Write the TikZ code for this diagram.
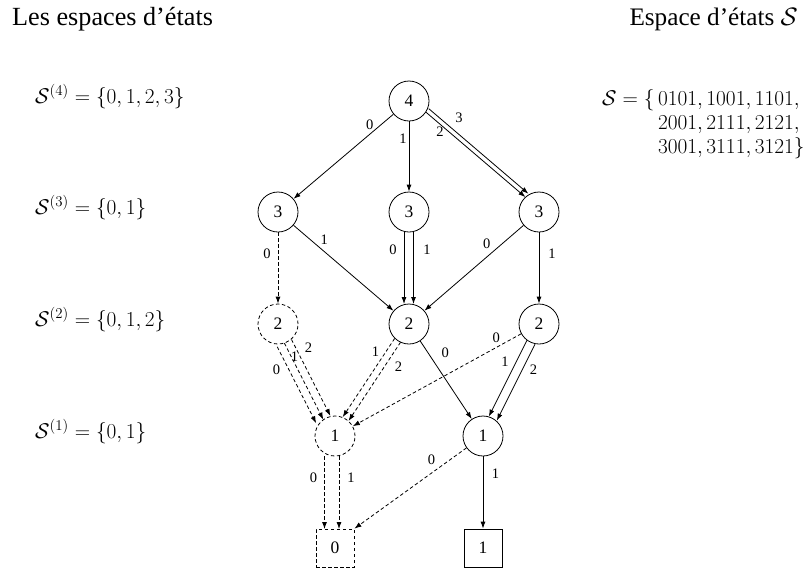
\documentclass[tikz,border=0pt]{standalone}
\usepackage{fix-cm}
\usepackage[no-math]{fontspec}
\setmainfont{Liberation Serif}
\usetikzlibrary{arrows.meta,calc}
\tikzset{
  x=1pt,y=1pt,
  statenode/.style={circle,draw,minimum size=40pt,inner sep=0pt,line width=0.8pt,font=\fontsize{17.5}{20}\selectfont},
  dstatenode/.style={statenode,dash pattern=on 3.5pt off 2.5pt},
  termnode/.style={rectangle,draw,minimum size=38pt,inner sep=0pt,line width=0.8pt,font=\fontsize{17.5}{20}\selectfont},
  dtermnode/.style={termnode,dash pattern=on 3.5pt off 2.5pt},
  arr/.style={line width=0.8pt,-{Latex[length=7pt,width=5pt]}},
  darr/.style={arr,dash pattern=on 3.5pt off 2.5pt},
  lbl/.style={inner sep=0pt,font=\fontsize{14.5}{16}\selectfont},
  mathlbl/.style={inner sep=0pt,font=\fontsize{21.3}{24}\selectfont},
  headlbl/.style={inner sep=0pt,font=\fontsize{26.2}{30}\selectfont},
}
% #1 style, #2 from, #3 to, #4 radius at target, #5 offset, #6 label options, #7 label
\newcommand\offedge[7]{%
  \draw[#1] ($(#2)!20pt!(#3)!#5!90:(#3)$) -- node[lbl,#6]{#7} ($(#3)!#4!(#2)!#5!-90:(#2)$);}
\begin{document}
\begin{tikzpicture}
\useasboundingbox (0,0) rectangle (808,-568);
% headers
\node[headlbl,anchor=base west] (h1) at (12,-25) {Les espaces d’états};
\node[headlbl,anchor=base east,font=\fontsize{25.2}{30}\selectfont] (h2) at (798,-25) {Espace d’états $\mathcal{S}$};
% left formulas
\node[mathlbl,anchor=west] (s4) at (35,-96.5) {$\mathcal{S}^{(4)} = \{0,1,2,3\}$};
\node[mathlbl,anchor=west] (s3) at (35,-207.5) {$\mathcal{S}^{(3)} = \{0,1\}$};
\node[mathlbl,anchor=west] (s2) at (35,-319.5) {$\mathcal{S}^{(2)} = \{0,1,2\}$};
\node[mathlbl,anchor=west] (s1) at (35,-431.5) {$\mathcal{S}^{(1)} = \{0,1\}$};
% right set
\node[mathlbl,anchor=base west] (sset) at (602,-105) {$\begin{array}[t]{@{}r@{}l@{}}
 \mathcal{S} = \{\, & 0101, 1001, 1101,\\
  & 2001, 2111, 2121,\\
  & 3001, 3111, 3121\}
 \end{array}$};
% nodes
\node[statenode] (n4) at (409,-101) {4};
\node[statenode] (a3) at (278,-212) {3};
\node[statenode] (b3) at (409,-212) {3};
\node[statenode] (c3) at (539,-212) {3};
\node[dstatenode] (a2) at (278,-324) {2};
\node[statenode] (b2) at (409,-324) {2};
\node[statenode] (c2) at (539,-324) {2};
\node[dstatenode] (a1) at (335,-436) {1};
\node[statenode] (b1) at (483,-436) {1};
\node[dtermnode] (t0) at (335,-548) {0};
\node[termnode] (t1) at (483,-548) {1};
% edges level 4 -> 3
\draw[arr] (n4) -- node[lbl,pos=.119,xshift=-11.8pt]{0} (a3);
\draw[arr] (n4) -- node[lbl,pos=.24,xshift=-6pt]{1} (b3);
\offedge{arr}{n4}{c3}{20pt}{2.5pt}{pos=.234,xshift=-9.1pt}{2}
\offedge{arr}{n4}{c3}{20pt}{7pt}{pos=.109,xshift=19.4pt}{3}
% level 3 -> 2
\draw[darr] (a3) -- node[lbl,pos=.306,xshift=-11pt]{0} (a2);
\draw[arr] (a3) -- node[lbl,pos=.174,xshift=13.3pt]{1} (b2);
\offedge{arr}{b3}{b2}{20pt}{-5pt}{pos=.25,xshift=-11pt}{0}
\offedge{arr}{b3}{b2}{20pt}{4.5pt}{pos=.25,xshift=13.5pt}{1}
\draw[arr] (c3) -- node[lbl,pos=.221,xshift=-14.8pt]{0} (b2);
\draw[arr] (c3) -- node[lbl,pos=.306,xshift=13pt]{1} (c2);
% level 2 -> 1
\offedge{darr}{a2}{a1}{20pt}{-11pt}{pos=.304,xshift=-12.6pt}{0}
\offedge{darr}{a2}{a1}{20pt}{-3pt}{pos=.174,xshift=3.3pt}{1}
\offedge{darr}{a2}{a1}{20pt}{5pt}{pos=.111,xshift=12.6pt}{2}
\offedge{darr}{b2}{a1}{20pt}{-4pt}{pos=.172,xshift=-10.3pt}{1}
\offedge{darr}{b2}{a1}{20pt}{3pt}{pos=.314,xshift=14.3pt}{2}
\draw[arr] (b2) -- node[lbl,pos=.144,xshift=17.5pt]{0} (b1);
\draw[darr] (c2) -- node[lbl,pos=.047,xshift=-16.9pt]{0} (a1);
\offedge{arr}{c2}{b1}{20pt}{-3.5pt}{pos=.285,xshift=-11.1pt}{1}
\offedge{arr}{c2}{b1}{20pt}{5.5pt}{pos=.336,xshift=11.3pt}{2}
% level 1 -> 0
\offedge{darr}{a1}{t0}{19pt}{-10.5pt}{pos=.30,xshift=-11pt}{0}
\offedge{darr}{a1}{t0}{19pt}{4pt}{pos=.30,xshift=12pt}{1}
\draw[darr] (b1) -- node[lbl,pos=.152,xshift=-17.9pt]{0} (t0.north east);
\draw[arr] (b1) -- node[lbl,pos=.233,xshift=12.5pt]{1} (t1);
\end{tikzpicture}
\end{document}
